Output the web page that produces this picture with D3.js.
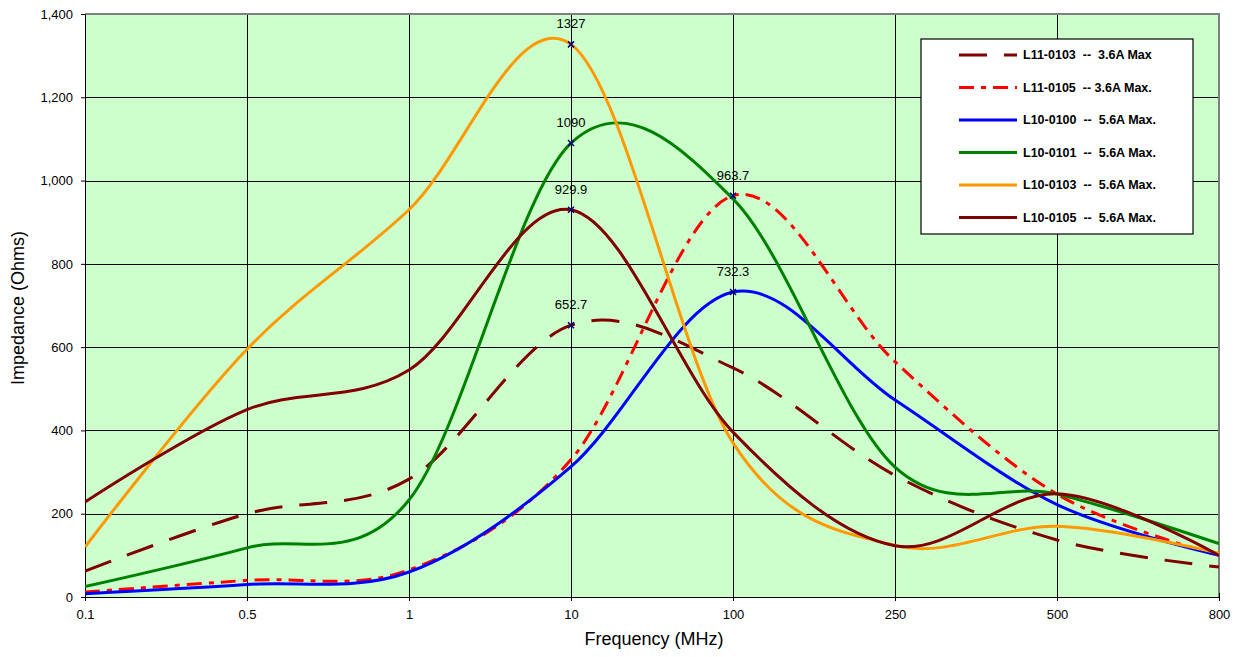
<!DOCTYPE html>
<html>
<head>
<meta charset="utf-8">
<script src="https://cdn.jsdelivr.net/npm/d3@7"></script>
<style>
  body { margin: 0; background: #fff; font-family: Arial, "Liberation Sans", sans-serif; }
  .tick text { font-size: 13px; fill: #000; font-family: Arial, "Liberation Sans", sans-serif; }
</style>
</head>
<body>
<div id="chart"></div>
<script>
// category axis (equal spacing, as in the original spreadsheet chart)
var categories = ["0.1", "0.5", "1", "10", "100", "250", "500", "800"];
var yTicks = [0, 200, 400, 600, 800, 1000, 1200, 1400];

var l11_0103 = [62, 200, 283, 652.7, 550, 292, 137, 72];
var l11_0105 = [12, 40, 65, 330, 963.7, 565, 247, 100];
var l10_0100 = [8, 30, 60, 313, 732.3, 473, 222, 100];
var l10_0101 = [25, 118, 233, 1090, 956, 312, 247, 128];
var l10_0103 = [120, 595, 930, 1327, 370, 124, 170, 105];
var l10_0105 = [228, 450, 545, 929.9, 396, 123, 248, 100];

var seriesNames = ["L11-0103  --  3.6A Max", "L11-0105  -- 3.6A Max.", "L10-0100  --  5.6A Max.",
                   "L10-0101  --  5.6A Max.", "L10-0103  --  5.6A Max.", "L10-0105  --  5.6A Max."];
// index of the category where each series gets a labelled marker
var markerAt = [3, 4, 4, 3, 3, 3];

var series = [
  { name: seriesNames[0], values: l11_0103, color: "#800000", dash: "28,17", mark: markerAt[0] },
  { name: seriesNames[1], values: l11_0105, color: "#ff0000", dash: "15,7,5,7", mark: markerAt[1] },
  { name: seriesNames[2], values: l10_0100, color: "#0000ff", dash: null, mark: markerAt[2] },
  { name: seriesNames[3], values: l10_0101, color: "#008000", dash: null, mark: markerAt[3] },
  { name: seriesNames[4], values: l10_0103, color: "#ff9900", dash: null, mark: markerAt[4] },
  { name: seriesNames[5], values: l10_0105, color: "#800000", dash: null, mark: markerAt[5] }
];

var W = 1235, H = 657;
var margin = { top: 14, right: 16, bottom: 60, left: 85 };
var width = W - margin.left - margin.right;
var height = H - margin.top - margin.bottom;

var svg = d3.select("#chart").append("svg")
    .attr("width", W)
    .attr("height", H);

var g = svg.append("g")
    .attr("transform", "translate(" + margin.left + "," + margin.top + ")");

var x = d3.scalePoint().domain(categories).range([0, width]);
var y = d3.scaleLinear().domain([0, 1400]).range([height, 0]);

// plot background
g.append("rect")
    .attr("width", width)
    .attr("height", height)
    .attr("fill", "#ccffcc");

// grid
g.append("g").selectAll("line").data(yTicks.slice(1, -1)).enter().append("line")
    .attr("x1", 0).attr("x2", width)
    .attr("y1", function(d) { return Math.round(y(d)) + 0.5; })
    .attr("y2", function(d) { return Math.round(y(d)) + 0.5; })
    .attr("stroke", "#000").attr("stroke-width", 1);
g.append("g").selectAll("line").data(categories.slice(1, -1)).enter().append("line")
    .attr("y1", 0).attr("y2", height)
    .attr("x1", function(d) { return Math.round(x(d)) + 0.5; })
    .attr("x2", function(d) { return Math.round(x(d)) + 0.5; })
    .attr("stroke", "#000").attr("stroke-width", 1);

// gray frame on top and right
g.append("path")
    .attr("d", "M0,0H" + width + "V" + height)
    .attr("fill", "none")
    .attr("stroke", "#808080")
    .attr("stroke-width", 2);

// axes
var xAxis = g.append("g")
    .attr("transform", "translate(0," + height + ")")
    .call(d3.axisBottom(x).tickSizeInner(4).tickSizeOuter(0).tickPadding(9));
xAxis.select(".domain").attr("stroke", "#000");
xAxis.selectAll(".tick line").attr("y1", -4).attr("y2", 4);

var yAxis = g.append("g")
    .call(d3.axisLeft(y).tickValues(yTicks).tickFormat(d3.format(",")).tickSizeInner(4).tickSizeOuter(0).tickPadding(8));
yAxis.select(".domain").attr("stroke", "#000");

// axis titles
svg.append("text")
    .attr("x", 654)
    .attr("y", 645)
    .attr("text-anchor", "middle")
    .style("font-size", "18px")
    .text("Frequency (MHz)");

svg.append("text")
    .attr("transform", "translate(24," + 308 + ") rotate(-90)")
    .attr("text-anchor", "middle")
    .style("font-size", "18px")
    .text("Impedance (Ohms)");

// lines
var line = d3.line()
    .x(function(d, i) { return x(categories[i]); })
    .y(function(d) { return y(d); })
    .curve(d3.curveCardinal.tension(0));

svg.append("clipPath").attr("id", "plotclip")
    .append("rect").attr("width", width).attr("height", height);

var lines = g.append("g").attr("clip-path", "url(#plotclip)");
lines.selectAll("path").data(series).enter().append("path")
    .attr("d", function(d) { return line(d.values); })
    .attr("fill", "none")
    .attr("stroke", function(d) { return d.color; })
    .attr("stroke-width", 3)
    .attr("stroke-dasharray", function(d) { return d.dash; });

// markers + value labels
var marks = g.append("g").selectAll("g").data(series).enter().append("g")
    .attr("transform", function(d) {
      return "translate(" + x(categories[d.mark]) + "," + y(d.values[d.mark]) + ")";
    });
marks.append("path")
    .attr("d", "M-3,-3L3,3M-3,3L3,-3")
    .attr("stroke", "#000080")
    .attr("stroke-width", 1.5);
marks.append("text")
    .attr("y", -16)
    .attr("text-anchor", "middle")
    .style("font-size", "13px")
    .text(function(d) { return d.values[d.mark]; });

// legend
var legend = svg.append("g").attr("transform", "translate(921,39)");
legend.append("rect")
    .attr("width", 272).attr("height", 195)
    .attr("fill", "#fff")
    .attr("stroke", "#000")
    .attr("stroke-width", 1.2);

var item = legend.selectAll(".legend-item").data(series).enter().append("g")
    .attr("class", "legend-item")
    .attr("transform", function(d, i) { return "translate(0," + (16 + i * 32.5) + ")"; });
item.append("line")
    .attr("x1", 38).attr("x2", 96)
    .attr("stroke", function(d) { return d.color; })
    .attr("stroke-width", 3)
    .attr("stroke-dasharray", function(d) { return d.dash; });
item.append("text")
    .attr("x", 102)
    .attr("dy", "0.35em")
    .style("font-size", "12.5px")
    .style("font-weight", "bold")
    .style("white-space", "pre")
    .text(function(d) { return d.name; });
</script>
</body>
</html>
